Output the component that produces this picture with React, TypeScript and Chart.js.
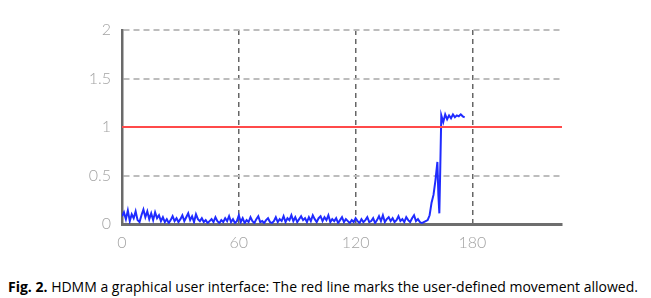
import React, { useEffect, useRef } from "react";
import { Chart, registerables } from "chart.js";

Chart.register(...registerables);

// Movement signal: baseline noise sampled once per second (t = 0..157)
const baselineNoise: number[] = [
  0.08, 0.12, 0.05, 0.14, 0.03, 0.10, 0.06, 0.13, 0.04, 0.02, 0.09, 0.15, 0.07, 0.13, 0.05, 0.11, 0.04, 0.12, 0.06, 0.09, 0.03,
  0.07, 0.02, 0.05, 0.01, 0.04, 0.08, 0.03, 0.06, 0.02, 0.05, 0.09, 0.03, 0.07, 0.11, 0.04, 0.08, 0.02, 0.10, 0.05, 0.03,
  0.06, 0.02, 0.04, 0.01, 0.03, 0.05, 0.02, 0.07, 0.03, 0.01, 0.04, 0.02, 0.06, 0.03, 0.08, 0.02, 0.05, 0.01, 0.03, 0.09,
  0.02, 0.06, 0.01, 0.04, 0.02, 0.07, 0.03, 0.01, 0.05, 0.08, 0.02, 0.03, 0.01, 0.04, 0.06, 0.02, 0.01, 0.03, 0.07, 0.02,
  0.05, 0.03, 0.08, 0.02, 0.06, 0.04, 0.09, 0.03, 0.07, 0.02, 0.05, 0.08, 0.04, 0.06, 0.02, 0.07, 0.03, 0.09, 0.05, 0.02,
  0.06, 0.08, 0.03, 0.07, 0.04, 0.09, 0.02, 0.05, 0.03, 0.06, 0.01, 0.04, 0.07, 0.02, 0.05, 0.03, 0.01, 0.04, 0.02, 0.06,
  0.03, 0.01, 0.05, 0.02, 0.04, 0.07, 0.02, 0.03, 0.06, 0.01, 0.04, 0.08, 0.03, 0.09, 0.02, 0.05, 0.07, 0.03, 0.06, 0.02,
  0.04, 0.08, 0.03, 0.05, 0.02, 0.07, 0.04, 0.02, 0.06, 0.09, 0.03, 0.05, 0.02, 0.01, 0.02, 0.03, 0.04,
];

// Movement burst at the end
const burstTimes: number[] = [158, 159, 160, 161, 162, 162.5, 163, 163.5, 164, 165, 166, 167, 168, 169, 170, 171, 172, 173, 174, 175, 176];
const burstValues: number[] = [0.09, 0.22, 0.3, 0.45, 0.64, 0.3, 0.11, 0.6, 1.12, 1.05, 1.13, 1.08, 1.12, 1.09, 1.13, 1.1, 1.12, 1.11, 1.13, 1.11, 1.1];

const thresholdValue = 1;
const xMin = 0;
const xMax = 226;
const xTicks: number[] = [0, 60, 120, 180];
const yTicks: number[] = [0, 0.5, 1, 1.5, 2];

export default function App() {
  const ref = useRef<HTMLCanvasElement>(null);

  useEffect(() => {
    if (!ref.current) return;
    const signal = [
      ...baselineNoise.map((v, i) => ({ x: i, y: v })),
      ...burstTimes.map((t, i) => ({ x: t, y: burstValues[i] })),
    ];
    const chart = new Chart(ref.current, {
      type: "line",
      data: {
        datasets: [
          {
            data: signal,
            borderColor: "#1f2bff",
            borderWidth: 2,
            pointRadius: 0,
            tension: 0,
            order: 2,
          },
          {
            data: [
              { x: xMin, y: thresholdValue },
              { x: xMax, y: thresholdValue },
            ],
            borderColor: "#ff4a4a",
            borderWidth: 2,
            pointRadius: 0,
            order: 1,
          },
        ],
      },
      options: {
        animation: false,
        responsive: false,
        plugins: { legend: { display: false }, tooltip: { enabled: false } },
        layout: { padding: { top: 30, right: 89, bottom: 0, left: 0 } },
        scales: {
          x: {
            type: "linear",
            min: xMin,
            max: xMax,
            afterBuildTicks: (s: any) => {
              s.ticks = xTicks.map((v) => ({ value: v }));
            },
            afterFit: (s: any) => {
              s.height = 36;
            },
            grid: {
              color: "#666666",
              lineWidth: 1.5,
              drawTicks: false,
            },
            border: { display: true, color: "#6e6e6e", width: 3, dash: [5, 4] },
            ticks: {
              color: "#a3a3a3",
              font: { family: "Lato", size: 16, weight: "300" },
              padding: 9,
              maxRotation: 0,
            },
          },
          y: {
            min: 0,
            max: 2,
            afterBuildTicks: (s: any) => {
              s.ticks = yTicks.map((v) => ({ value: v }));
            },
            afterFit: (s: any) => {
              s.width = 122;
            },
            grid: {
              color: "#bdbdbd",
              lineWidth: 2,
              drawTicks: false,
            },
            border: { display: true, color: "#6a6a6a", width: 2.5, dash: [6, 4] },
            ticks: {
              color: "#a3a3a3",
              font: { family: "Lato", size: 16, weight: "300" },
              padding: 11,
              callback: (v: any) => String(v),
            },
          },
        },
      },
    });
    return () => chart.destroy();
  }, []);

  return (
    <div style={{ position: "fixed", left: 0, top: 0, width: 651, height: 298, background: "#fff", margin: 0 }}>
      <canvas ref={ref} width={651} height={260} style={{ position: "absolute", left: 0, top: 0 }} />
      <div
        style={{
          position: "absolute",
          left: 8,
          top: 277,
          fontFamily: "'Open Sans', 'Noto Sans', sans-serif",
          fontSize: 14,
          color: "#000",
          whiteSpace: "nowrap",
        }}
      >
        <b>Fig. 2.</b> HDMM a graphical user interface: The red line marks the user-defined movement allowed.
      </div>
    </div>
  );
}
